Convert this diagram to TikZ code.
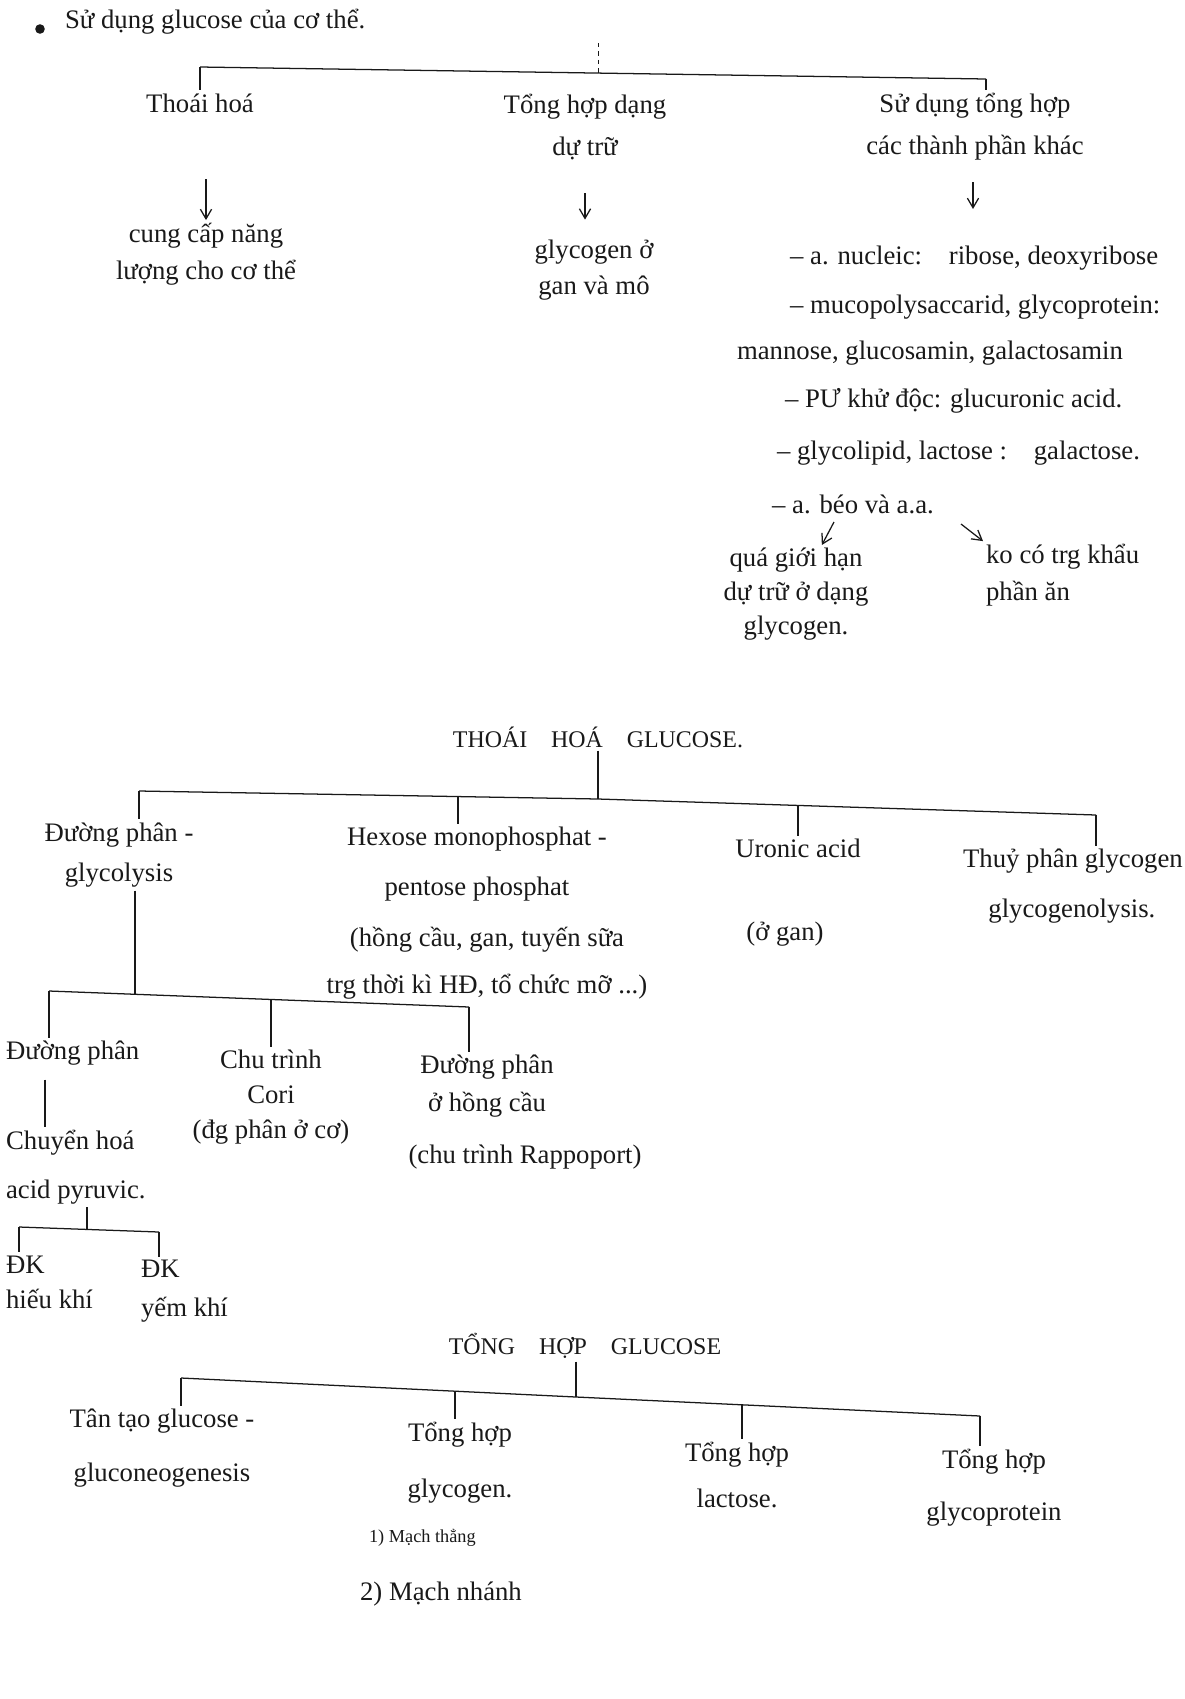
\documentclass[tikz,border=0pt]{standalone}
\usepackage{fontspec}
\setmainfont{Liberation Serif}
\usetikzlibrary{arrows.meta,positioning,calc}
\definecolor{ink}{RGB}{25,25,25}
\tikzset{
  txt/.style={font=\fontsize{19}{30}\selectfont,text=ink,align=center,inner sep=2pt},
  sk/.style={font=\fontsize{19}{#1}\selectfont},
  head/.style={font=\fontsize{17}{20}\selectfont,text=ink,inner sep=2pt},
  note/.style={font=\fontsize{13}{16}\selectfont,text=ink,inner sep=2pt},
  ln/.style={draw=ink,line width=.9pt},
  arr/.style={-{Straight Barb[length=2.4mm,width=2.8mm]},draw=ink,line width=.9pt}
}

\begin{document}
\begin{tikzpicture}[x=0.025cm,y=-0.025cm]
  \fill[white] (0,0) rectangle (1185,1699);
  \useasboundingbox (0,0) rectangle (1185,1699);

  \fill[ink] (40,29) circle (1.2mm);
  \node[txt,anchor=base west] (tieude) at (62,28) {Sử dụng glucose của cơ thể.};
  \coordinate (b1l) at (200,67);
  \coordinate (b1m) at (598,73);
  \coordinate (b1r) at (986,79);
  \coordinate (b1t) at (598,43);
  \draw[ln] (b1l) -- (b1r);
  \draw[ink,thin,dashed] (b1t) -- (b1m);
  \node[txt] (thoaihoa) at (200,103) {Thoái hoá};
  \node[txt,sk=30] (dutru) at (585,127) {Tổng hợp dạng\\dự trữ};
  \node[txt,sk=30] (sudung) at (975,127) {Sử dụng tổng hợp\\các thành phần khác};
  \draw[ln] (b1l) -- (b1l |- thoaihoa.north);
  \draw[ln] (b1r) -- (b1r |- sudung.north);

  \coordinate (a1) at (206,179);
  \coordinate (a2) at (585,193);
  \coordinate (a3) at (973,182);
  \node[txt,sk=26] (nangluong) at (206,254) {cung cấp năng\\lượng cho cơ thể};
  \node[txt,sk=26] (glycogen) at (594,270) {glycogen ở\\gan và mô};
  \draw[arr] (a1) -- (nangluong);
  \draw[arr,shorten >=12pt] (a2) -- (a2 |- glycogen.north);

  \node[txt,anchor=west] (nucleic) at (787,258) {– a. nucleic:\quad ribose, deoxyribose};
  \node[txt,anchor=west] (muco) at (787,307) {– mucopolysaccarid, glycoprotein:};
  \node[txt,anchor=west] (mannose) at (734,353) {mannose, glucosamin, galactosamin};
  \node[txt,anchor=west] (khudoc) at (782,401) {– PƯ khử độc: glucuronic acid.};
  \node[txt,anchor=west] (glycolipid) at (774,453) {– glycolipid, lactose :\quad galactose.};
  \node[txt,anchor=west] (abeo) at (769,504) {– a. béo và a.a.};
  \draw[arr,shorten >=24pt] (a3) -- (a3 |- nucleic.north);
  \node[txt,sk=24] (gioihan) at (796,594) {quá giới hạn\\dự trữ ở dạng\\glycogen.};
  \node[txt,sk=26,align=left,anchor=west] (khauphan) at (983,575) {ko có trg khẩu\\phần ăn};
  \coordinate (ab1) at (834,522);
  \coordinate (ab2) at (961,524);
  \draw[arr] (ab1) -- (gioihan);
  \draw[arr] (ab2) -- (khauphan.north west);

  \node[head] (thoaiglc) at (598,737) {THOÁI\quad HOÁ\quad GLUCOSE.};
  \coordinate (b2l) at (139,791);
  \coordinate (b2m) at (598,799);
  \coordinate (b2r) at (1096,815);
  \coordinate (t2b) at (458,797);
  \coordinate (t2c) at (798,805);
  \draw[ln] (b2l) -- (b2m) -- (b2r);
  \draw[ln] (thoaiglc) -- (b2m);
  \node[txt,sk=29] (duongphan) at (119,855) {Đường phân -\\glycolysis};
  \node[txt,sk=35] (hexose) at (477,864) {Hexose monophosphat -\\pentose phosphat};
  \node[txt] (uronic) at (798,848) {Uronic acid};
  \node[txt,sk=35,align=left,anchor=west] (thuyphan) at (960,886) {Thuỷ phân glycogen\\\hspace*{18pt}glycogenolysis.};
  \node[txt,sk=33] (hongcau) at (487,963) {(hồng cầu, gan, tuyến sữa\\trg thời kì HĐ, tổ chức mỡ ...)};
  \node[txt] (gan) at (785,934) {(ở gan)};
  \draw[ln] (b2l) -- (b2l |- duongphan.north);
  \draw[ln] (t2b) -- (t2b |- hexose.north);
  \draw[ln] (t2c) -- (t2c |- uronic.north);
  \draw[ln] (b2r) -- (b2r |- thuyphan.north);

  \coordinate (b3l) at (49,991);
  \coordinate (b3j) at (135,994);
  \coordinate (b3m) at (271,999);
  \coordinate (b3r) at (469,1007);
  \draw[ln] (b3l) -- (b3r);
  \draw[ln] (b3j |- duongphan.south) -- (b3j);
  \node[txt,anchor=west] (duongphan2) at (3,1053) {Đường phân};
  \node[txt,sk=25] (cori) at (271,1097) {Chu trình\\Cori\\(đg phân ở cơ)};
  \node[txt,sk=27] (hongcau2) at (487,1086) {Đường phân\\ở hồng cầu};
  \node[txt] (rappoport) at (525,1157) {(chu trình Rappoport)};
  \draw[ln] (b3l) -- (b3l |- duongphan2.north);
  \draw[ln] (b3m) -- (b3m |- cori.north);
  \draw[ln] (b3r) -- (b3r |- hongcau2.north);

  \coordinate (v3) at (45,1100);
  \node[txt,anchor=west] (chuyenhoa) at (3,1143) {Chuyển hoá};
  \node[txt,anchor=west] (pyruvic) at (3,1192) {acid pyruvic.};
  \draw[ln,shorten <=8pt] (v3 |- duongphan2.south) -- (v3 |- chuyenhoa.north);
  \coordinate (b4l) at (19,1227);
  \coordinate (b4j) at (87,1229);
  \coordinate (b4r) at (159,1232);
  \draw[ln] (b4l) -- (b4r);
  \draw[ln] (b4j |- pyruvic.south) -- (b4j);
  \node[txt,sk=25,align=left,anchor=west] (hieukhi) at (3,1282) {ĐK\\hiếu khí};
  \node[txt,sk=28,align=left,anchor=west] (yemkhi) at (138,1291) {ĐK\\yếm khí};
  \draw[ln] (b4l) -- (b4l |- hieukhi.north);
  \draw[ln] (b4r) -- (b4r |- yemkhi.north);

  \node[head] (tonghop) at (585,1346) {TỔNG\quad HỢP\quad GLUCOSE};
  \coordinate (b5l) at (181,1378);
  \coordinate (b5m) at (576,1397);
  \coordinate (b5r) at (980,1416);
  \coordinate (t5b) at (455,1391);
  \coordinate (t5c) at (742,1405);
  \draw[ln] (b5l) -- (b5m) -- (b5r);
  \draw[ln] (b5m |- tonghop.south) -- (b5m);
  \node[txt,sk=38] (tantao) at (162,1448) {Tân tạo glucose -\\gluconeogenesis};
  \node[txt,sk=40] (tonghopglycogen) at (460,1463) {Tổng hợp\\glycogen.};
  \node[txt,sk=33] (lactose) at (737,1475) {Tổng hợp\\lactose.};
  \node[txt,sk=37] (glycoprotein) at (994,1488) {Tổng hợp\\glycoprotein};
  \draw[ln] (b5l) -- (b5l |- tantao.north);
  \draw[ln] (t5b) -- (t5b |- tonghopglycogen.north);
  \draw[ln] (t5c) -- (t5c |- lactose.north);
  \draw[ln] (b5r) -- (b5r |- glycoprotein.north);
  \node[note,anchor=west] (mach1) at (366,1538) {1) Mạch thẳng};
  \node[txt,anchor=west] (mach2) at (357,1594) {2) Mạch nhánh};
\end{tikzpicture}
\end{document}
